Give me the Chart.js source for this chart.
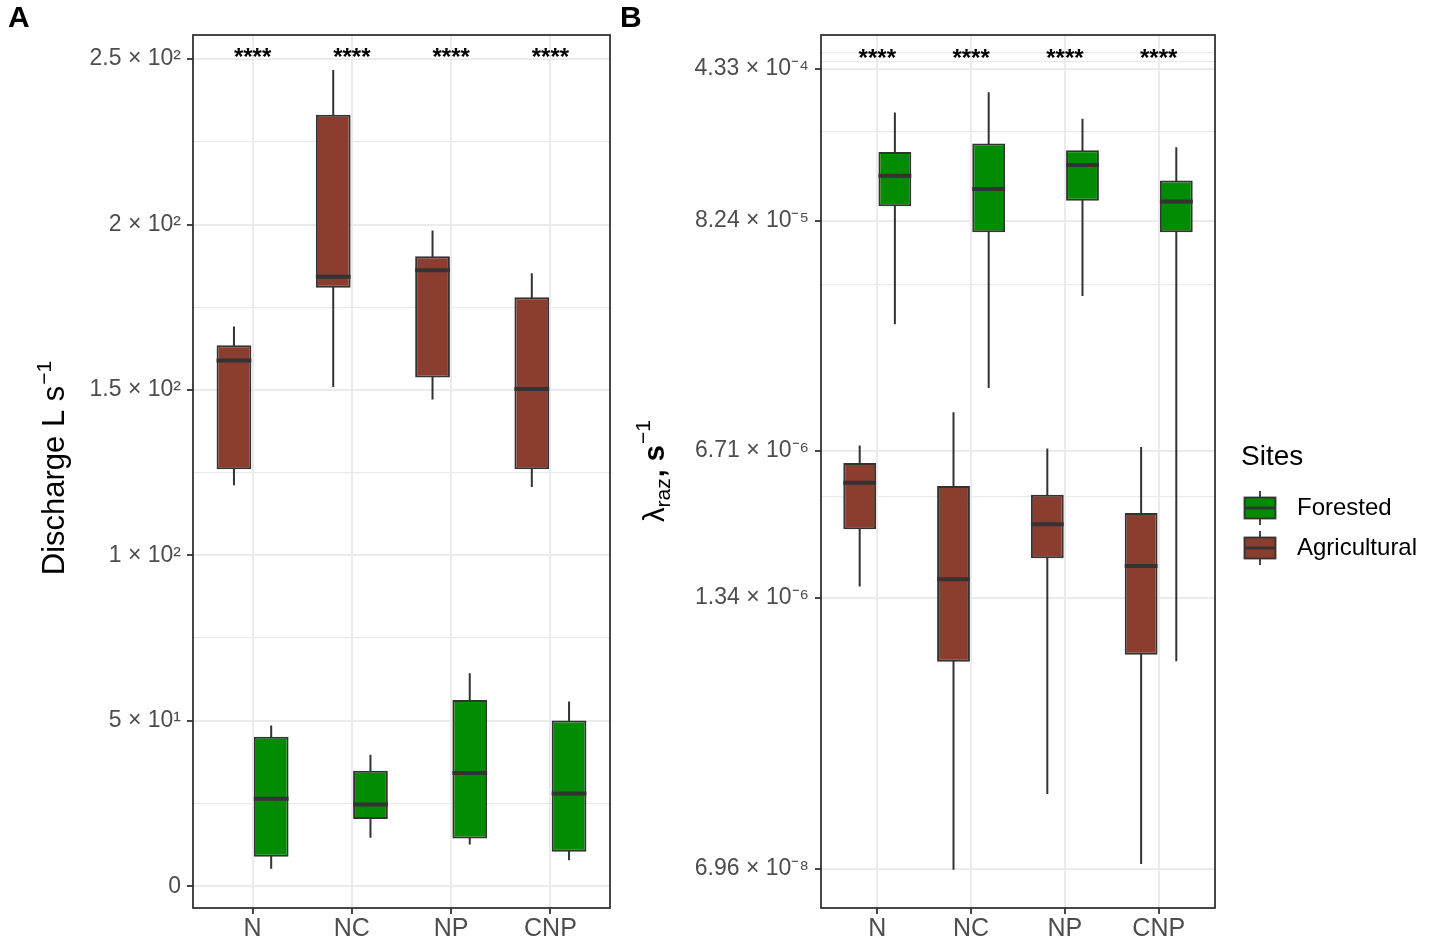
<!DOCTYPE html>
<html>
<head>
<meta charset="utf-8">
<script src="https://cdn.jsdelivr.net/npm/chart.js@4.4.1/dist/chart.umd.min.js"></script>
<style>
  html, body { margin: 0; padding: 0; background: #ffffff; }
  #wrap { position: relative; width: 1429px; height: 945px; overflow: hidden; }
  .panel { position: absolute; top: 0; height: 945px; }
</style>
</head>
<body>
<div id="wrap">
  <div class="panel" style="left:0px;width:615px;"><canvas id="chartA"></canvas></div>
  <div class="panel" style="left:615px;width:814px;"><canvas id="chartB"></canvas></div>
</div>
<script>
// ---------------- DATA ----------------
const categories = ['N', 'NC', 'NP', 'CNP'];
const siteNames = ['Agricultural', 'Forested'];
const signifLabels = ['****', '****', '****', '****'];

// Panel A: Discharge (L s^-1) box statistics
const dischargeAgriMin = [121.2, 150.9, 147.1, 120.7];
const dischargeAgriQ1  = [126.0, 180.9, 153.8, 126.0];
const dischargeAgriMed = [158.9, 184.2, 186.2, 150.3];
const dischargeAgriQ3  = [163.5, 233.2, 190.4, 178.0];
const dischargeAgriMax = [169.2, 246.7, 198.2, 185.3];

const dischargeForMin = [5.3, 14.6, 12.6, 7.8];
const dischargeForQ1  = [8.9, 20.3, 14.4, 10.4];
const dischargeForMed = [26.4, 24.7, 34.2, 28.0];
const dischargeForQ3  = [45.2, 34.9, 56.3, 50.1];
const dischargeForMax = [48.6, 39.7, 64.4, 55.8];

const dischargeTicks = [0, 50, 100, 150, 200, 250];
const dischargeTickLabels = ['0', '5 × 10¹', '1 × 10²', '1.5 × 10²', '2 × 10²', '2.5 × 10²'];
const dischargeMinorTicks = [25, 75, 125, 175, 225];
const dischargeRange = [-6.6, 257.3];
const dischargeSignifAt = 248.2;

// Panel B: lambda_raz (s^-1) box statistics
const lambdaAgriMin = [1.52e-6, 6.91e-8, 1.58e-7, 7.35e-8];
const lambdaAgriQ1  = [2.84e-6, 6.69e-7, 2.07e-6, 7.22e-7];
const lambdaAgriMed = [4.72e-6, 1.645e-6, 3.00e-6, 1.905e-6];
const lambdaAgriQ3  = [5.87e-6, 4.56e-6, 4.15e-6, 3.40e-6];
const lambdaAgriMax = [7.10e-6, 1.020e-5, 6.86e-6, 6.98e-6];

const lambdaForMin = [2.668e-5, 1.330e-5, 3.636e-5, 6.73e-7];
const lambdaForQ1  = [9.676e-5, 7.295e-5, 1.028e-4, 7.295e-5];
const lambdaForMed = [1.349e-4, 1.167e-4, 1.517e-4, 1.020e-4];
const lambdaForQ3  = [1.748e-4, 1.923e-4, 1.786e-4, 1.282e-4];
const lambdaForMax = [2.698e-4, 3.357e-4, 2.515e-4, 1.846e-4];

const lambdaTicks = [6.96e-8, 1.34e-6, 6.71e-6, 8.24e-5, 4.33e-4];
const lambdaTickLabels = ['6.96 × 10⁻⁸', '1.34 × 10⁻⁶', '6.71 × 10⁻⁶', '8.24 × 10⁻⁵', '4.33 × 10⁻⁴'];
const lambdaMinorTicks = [4.06e-6, 4.12e-5, 2.18e-4, 4.72e-4, 5.16e-4];
const lambdaRange = [4.545e-8, 6.281e-4];
const lambdaSignifAt = 4.476e-4;

// ---------------- STYLE ----------------
const FONT = "'Liberation Sans', Arial, Helvetica, sans-serif";
const BROWN = '#8B3E2F';
const GREEN = '#008B00';
const DARK = '#333333';
const GRID = '#ebebeb';
const TICKTXT = '#4d4d4d';

Chart.defaults.font.family = FONT;
Chart.defaults.color = TICKTXT;

function makeKey(fill) {
  const c = document.createElement('canvas');
  c.width = 56; c.height = 36;
  const g = c.getContext('2d');
  g.strokeStyle = DARK;
  g.lineWidth = 1.8;
  g.beginPath(); g.moveTo(17, 1); g.lineTo(17, 35); g.stroke();
  g.fillStyle = fill;
  g.fillRect(1.5, 7.5, 31, 21);
  g.strokeRect(1.5, 7.5, 31, 21);
  g.lineWidth = 2.8;
  g.beginPath(); g.moveTo(1.5, 18); g.lineTo(32.5, 18); g.stroke();
  return c;
}

function boxData(q1, q3) {
  return categories.map((c, i) => ({ x: i + 1, y: [q1[i], q3[i]] }));
}

function buildTicks(major, minor) {
  const t = major.map(v => ({ value: v, isMinor: false }))
    .concat(minor.map(v => ({ value: v, isMinor: true })));
  t.sort((a, b) => a.value - b.value);
  return t;
}

const boxPlotExtras = {
  id: 'boxPlotExtras',
  afterDatasetsDraw(chart) {
    const ctx = chart.ctx, ys = chart.scales.y;
    ctx.save();
    ctx.strokeStyle = DARK;
    ctx.lineCap = 'butt';
    chart.data.datasets.forEach((ds, di) => {
      const meta = chart.getDatasetMeta(di);
      meta.data.forEach((bar, i) => {
        const p = bar.getProps(['x', 'width'], true);
        const yLo = ys.getPixelForValue(ds.whiskerLow[i]);
        const yQ1 = ys.getPixelForValue(ds.boxLow[i]);
        const yQ3 = ys.getPixelForValue(ds.boxHigh[i]);
        const yHi = ys.getPixelForValue(ds.whiskerHigh[i]);
        const yMed = ys.getPixelForValue(ds.median[i]);
        ctx.lineWidth = 2;
        ctx.beginPath();
        ctx.moveTo(p.x, yHi); ctx.lineTo(p.x, yQ3 + 1);
        ctx.moveTo(p.x, yQ1 - 1); ctx.lineTo(p.x, yLo);
        ctx.stroke();
        ctx.lineWidth = 4;
        ctx.beginPath();
        ctx.moveTo(p.x - p.width / 2, yMed); ctx.lineTo(p.x + p.width / 2, yMed);
        ctx.stroke();
      });
    });
    ctx.restore();
  }
};

function panelDecor(cfg) {
  return {
    id: 'panelDecor',
    afterDatasetsDraw(chart) {
      const ctx = chart.ctx, xs = chart.scales.x, ys = chart.scales.y;
      ctx.save();
      ctx.fillStyle = '#000';
      ctx.font = 'bold 24px ' + FONT;
      ctx.textAlign = 'center';
      ctx.textBaseline = 'alphabetic';
      signifLabels.forEach((s, i) => {
        ctx.fillText(s, xs.getPixelForValue(i + 1), ys.getPixelForValue(cfg.signifAt));
      });
      ctx.restore();
    },
    afterDraw(chart) {
      const ctx = chart.ctx, a = chart.chartArea;
      ctx.save();
      ctx.strokeStyle = DARK;
      ctx.lineWidth = 1.8;
      ctx.strokeRect(a.left, a.top, a.right - a.left, a.bottom - a.top);
      // rotated y-axis title made of styled pieces
      ctx.translate(cfg.titleX, cfg.titleY);
      ctx.rotate(-Math.PI / 2);
      ctx.fillStyle = '#000';
      ctx.textBaseline = 'alphabetic';
      ctx.textAlign = 'left';
      let total = 0;
      const widths = cfg.titlePieces.map(p => {
        ctx.font = (p.weight || 'normal') + ' ' + p.size + 'px ' + FONT;
        const w = ctx.measureText(p.text).width + (p.gap || 0);
        total += w;
        return w;
      });
      let x = -total / 2;
      cfg.titlePieces.forEach((p, i) => {
        ctx.font = (p.weight || 'normal') + ' ' + p.size + 'px ' + FONT;
        ctx.fillText(p.text, x, p.dy || 0);
        x += widths[i];
      });
      ctx.restore();
    }
  };
}

function commonX() {
  return {
    type: 'linear',
    min: 0.4, max: 4.6,
    offset: false,
    afterBuildTicks: s => { s.ticks = categories.map((c, i) => ({ value: i + 1 })); },
    ticks: {
      callback: v => categories[Math.round(v) - 1],
      font: { size: 25 },
      color: TICKTXT,
      padding: 0,
      autoSkip: false,
      maxRotation: 0
    },
    grid: { offset: false, color: GRID, lineWidth: 2, tickColor: DARK, tickLength: 6, tickWidth: 1.8 },
    border: { display: false },
    afterFit: s => { s.height = 37; }
  };
}

function yGrid() {
  return {
    color: GRID,
    lineWidth: c => (c.tick && c.tick.isMinor) ? 1.2 : 2,
    tickColor: c => (c.tick && c.tick.isMinor) ? 'rgba(0,0,0,0)' : DARK,
    tickLength: 6,
    tickWidth: 1.8
  };
}

// ---------------- PANEL A ----------------
new Chart(document.getElementById('chartA'), {
  type: 'bar',
  data: {
    datasets: [
      {
        label: siteNames[0],
        data: boxData(dischargeAgriQ1, dischargeAgriQ3),
        backgroundColor: BROWN, borderColor: DARK, borderWidth: 2, borderSkipped: false,
        whiskerLow: dischargeAgriMin, boxLow: dischargeAgriQ1, median: dischargeAgriMed,
        boxHigh: dischargeAgriQ3, whiskerHigh: dischargeAgriMax
      },
      {
        label: siteNames[1],
        data: boxData(dischargeForQ1, dischargeForQ3),
        backgroundColor: GREEN, borderColor: DARK, borderWidth: 2, borderSkipped: false,
        whiskerLow: dischargeForMin, boxLow: dischargeForQ1, median: dischargeForMed,
        boxHigh: dischargeForQ3, whiskerHigh: dischargeForMax
      }
    ]
  },
  options: {
    responsive: true, maintainAspectRatio: false, animation: false, events: [],
    layout: { padding: { left: 8, right: 5, top: 0, bottom: 0 } },
    datasets: { bar: { categoryPercentage: 0.75, barPercentage: 0.9333, grouped: true } },
    plugins: {
      legend: { display: false },
      tooltip: { enabled: false },
      title: {
        display: true, text: 'A', align: 'start', color: '#000',
        font: { size: 30, weight: 'bold', lineHeight: 1 },
        padding: { top: 4, bottom: 1 }
      }
    },
    scales: {
      x: commonX(),
      y: {
        type: 'linear',
        min: dischargeRange[0], max: dischargeRange[1],
        beginAtZero: false,
        afterBuildTicks: s => { s.ticks = buildTicks(dischargeTicks, dischargeMinorTicks); },
        ticks: {
          autoSkip: false,
          font: { size: 23 },
          color: TICKTXT,
          padding: 6,
          callback: (v, i, t) => t[i].isMinor ? '' : dischargeTickLabels[dischargeTicks.indexOf(v)]
        },
        grid: yGrid(),
        border: { display: false },
        afterFit: s => { s.width = 185; }
      }
    }
  },
  plugins: [boxPlotExtras, panelDecor({
    signifAt: dischargeSignifAt,
    titleX: 64, titleY: 468,
    titlePieces: [
      { text: 'Discharge L s', size: 31, gap: 1 },
      { text: '−1', size: 21, dy: -13 }
    ]
  })]
});

// ---------------- PANEL B ----------------
const legendFix = {
  id: 'legendFix',
  afterInit(chart) {
    const lg = chart.legend;
    if (!lg) return;
    const orig = lg.fit;
    lg.fit = function () { orig.call(this); if (this.options.display) this.width = 214; };
  },
  afterLayout(chart) {
    const lg = chart.legend;
    if (!lg) return;
    lg.left += 26; lg.right += 26;
  }
};

new Chart(document.getElementById('chartB'), {
  type: 'bar',
  data: {
    datasets: [
      {
        label: siteNames[0],
        data: boxData(lambdaAgriQ1, lambdaAgriQ3),
        backgroundColor: BROWN, borderColor: DARK, borderWidth: 2, borderSkipped: false,
        pointStyle: makeKey(BROWN),
        whiskerLow: lambdaAgriMin, boxLow: lambdaAgriQ1, median: lambdaAgriMed,
        boxHigh: lambdaAgriQ3, whiskerHigh: lambdaAgriMax
      },
      {
        label: siteNames[1],
        data: boxData(lambdaForQ1, lambdaForQ3),
        backgroundColor: GREEN, borderColor: DARK, borderWidth: 2, borderSkipped: false,
        pointStyle: makeKey(GREEN),
        whiskerLow: lambdaForMin, boxLow: lambdaForQ1, median: lambdaForMed,
        boxHigh: lambdaForQ3, whiskerHigh: lambdaForMax
      }
    ]
  },
  options: {
    responsive: true, maintainAspectRatio: false, animation: false, events: [],
    layout: { padding: { left: 5, right: 0, top: 0, bottom: 0 } },
    datasets: { bar: { categoryPercentage: 0.75, barPercentage: 0.9333, grouped: true } },
    plugins: {
      tooltip: { enabled: false },
      title: {
        display: true, text: 'B', align: 'start', color: '#000',
        font: { size: 30, weight: 'bold', lineHeight: 1 },
        padding: { top: 4, bottom: 1 }
      },
      legend: {
        display: true,
        position: 'right',
        align: 'center',
        reverse: true,
        title: {
          display: true, text: 'Sites', color: '#000', position: 'start',
          font: { size: 28, lineHeight: 1.2 },
          padding: { top: 74.5, bottom: 2.9 }
        },
        labels: {
          usePointStyle: true,
          pointStyleWidth: 28,
          color: '#000',
          font: { size: 24 },
          padding: 16
        }
      }
    },
    scales: {
      x: commonX(),
      y: {
        type: 'logarithmic',
        min: lambdaRange[0], max: lambdaRange[1],
        beginAtZero: false,
        afterBuildTicks: s => { s.ticks = buildTicks(lambdaTicks, lambdaMinorTicks); },
        ticks: {
          autoSkip: false,
          font: { size: 23 },
          color: TICKTXT,
          padding: 6,
          callback: (v, i, t) => t[i].isMinor ? '' : lambdaTickLabels[lambdaTicks.indexOf(v)]
        },
        grid: yGrid(),
        border: { display: false },
        afterFit: s => { s.width = 201; }
      }
    }
  },
  plugins: [boxPlotExtras, legendFix, panelDecor({
    signifAt: lambdaSignifAt,
    titleX: 49, titleY: 471,
    titlePieces: [
      { text: 'λ', size: 29 },
      { text: 'raz', size: 21, dy: 6, gap: 1 },
      { text: ', s', size: 29, weight: 'bold', gap: 1 },
      { text: '−1', size: 21, dy: -14 }
    ]
  })]
});
</script>
</body>
</html>
